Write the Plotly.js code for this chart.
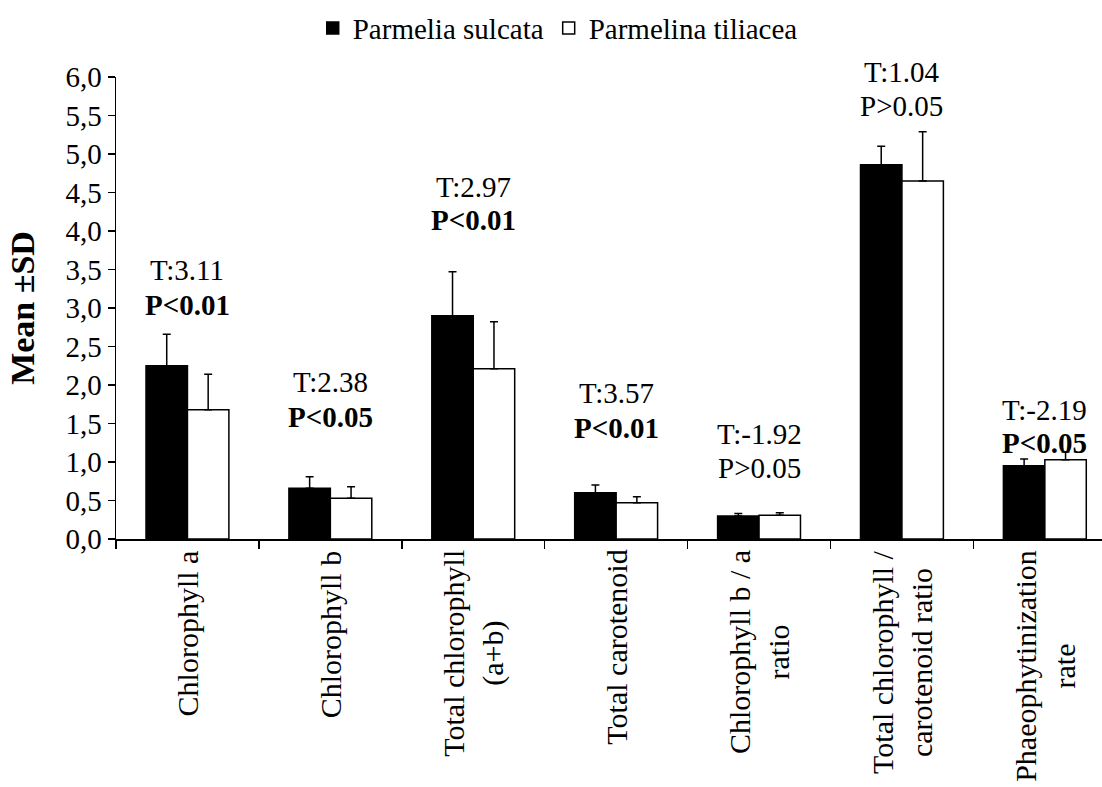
<!DOCTYPE html>
<html>
<head>
<meta charset="utf-8">
<script src="https://cdn.plot.ly/plotly-3.0.1.min.js"></script>
<style>html,body{margin:0;padding:0;background:#fff;}#chart{width:1102px;height:787px;}</style>
</head>
<body>
<div id="chart"></div>
<script>
// Categories (with line breaks as in the original)
const categories = [
  "Chlorophyll a",
  "Chlorophyll b",
  "Total chlorophyll<br>(a+b)",
  "Total carotenoid",
  "Chlorophyll b / a<br>ratio",
  "Total chlorophyll /<br>carotenoid ratio",
  "Phaeophytinization<br>rate"
];
// Parmelia sulcata
const sulcataMean = [2.25, 0.66, 2.90, 0.60, 0.30, 4.86, 0.95];
const sulcataSD   = [0.41, 0.15, 0.57, 0.10, 0.03, 0.24, 0.09];
// Parmelina tiliacea
const tiliaceaMean = [1.68, 0.53, 2.21, 0.47, 0.31, 4.65, 1.03];
const tiliaceaSD   = [0.46, 0.15, 0.61, 0.08, 0.03, 0.64, 0.10];
// Statistics
const tValues = ["T:3.11", "T:2.38", "T:2.97", "T:3.57", "T:-1.92", "T:1.04", "T:-2.19"];
const pValues = ["P<0.01", "P<0.05", "P<0.01", "P<0.01", "P>0.05", "P>0.05", "P<0.05"];
const pSignificant = [true, true, true, true, false, false, true];

// Layout-only: vertical placement of the two text lines (axis units)
const tLineY = [3.49, 2.04, 4.57, 1.90, 1.36, 6.06, 1.68];
const pLineY = [3.04, 1.58, 4.14, 1.44, 0.92, 5.62, 1.25];

const FONT = "Liberation Serif";
const FS = 29;
const Y_MAX = 6;
const zeros = categories.map(() => 0);

const traces = [
  {
    type: "bar", name: "Parmelia sulcata", x: categories, y: sulcataMean,
    marker: {color: "#000000", line: {color: "#000000", width: 1.5}},
    error_y: {type: "data", symmetric: false, array: sulcataSD, arrayminus: zeros,
              color: "#000000", thickness: 1.5, width: 4}
  },
  {
    type: "bar", name: "Parmelina tiliacea", x: categories, y: tiliaceaMean,
    marker: {color: "#ffffff", line: {color: "#000000", width: 1.5}},
    error_y: {type: "data", symmetric: false, array: tiliaceaSD, arrayminus: zeros,
              color: "#000000", thickness: 1.5, width: 4}
  }
];

const esc = s => s.replace(/</g, "&lt;").replace(/>/g, "&gt;");
const annotations = [];
categories.forEach((c, i) => {
  // category label (rotated, lines centred)
  annotations.push({x: c, y: 0, xref: "x", yref: "paper", text: c,
    showarrow: false, xanchor: "center", yanchor: "top", yshift: -9,
    textangle: -90, align: "center",
    font: {family: FONT, size: 30, color: "#000"}});
  annotations.push({x: c, y: tLineY[i] / Y_MAX, xref: "x", yref: "paper", text: tValues[i],
    showarrow: false, xanchor: "center", yanchor: "middle",
    font: {family: FONT, size: FS, color: "#000"}});
  const p = esc(pValues[i]);
  annotations.push({x: c, y: pLineY[i] / Y_MAX, xref: "x", yref: "paper",
    text: pSignificant[i] ? "<b>" + p + "</b>" : p,
    showarrow: false, xanchor: "center", yanchor: "middle",
    font: {family: FONT, size: FS, color: "#000"}});
});

const layout = {
  width: 1102, height: 787,
  margin: {l: 116, r: 0, t: 77, b: 248},
  paper_bgcolor: "#fff", plot_bgcolor: "#fff",
  font: {family: FONT, size: FS, color: "#000"},
  separators: ", ",
  barmode: "group", bargap: 0.42, bargroupgap: 0,
  showlegend: true,
  legend: {orientation: "h", x: 0.448, xanchor: "center", y: 1.106, yanchor: "middle",
           font: {family: FONT, size: FS, color: "#000"}, itemwidth: 30, tracegroupgap: 0},
  xaxis: {
    type: "category", range: [-0.5, 6.4],
    showline: true, linecolor: "#000", linewidth: 1.5,
    ticks: "outside", tickson: "boundaries", ticklen: 8, tickcolor: "#000", tickwidth: 1.5,
    showticklabels: false, showgrid: false, zeroline: false
  },
  yaxis: {
    range: [0, Y_MAX], dtick: 0.5, tick0: 0, tickformat: ".1f",
    showline: true, linecolor: "#000", linewidth: 1.5,
    ticks: "outside", ticklen: 7, tickcolor: "#000", tickwidth: 1.5,
    showgrid: false, zeroline: false,
    tickfont: {family: FONT, size: FS, color: "#000"},
    title: {text: "<b>Mean ±SD</b>", font: {family: FONT, size: 34, color: "#000"}, standoff: 20}
  },
  annotations: annotations
};

Plotly.newPlot("chart", traces, layout, {displayModeBar: false, staticPlot: true});
</script>
</body>
</html>
